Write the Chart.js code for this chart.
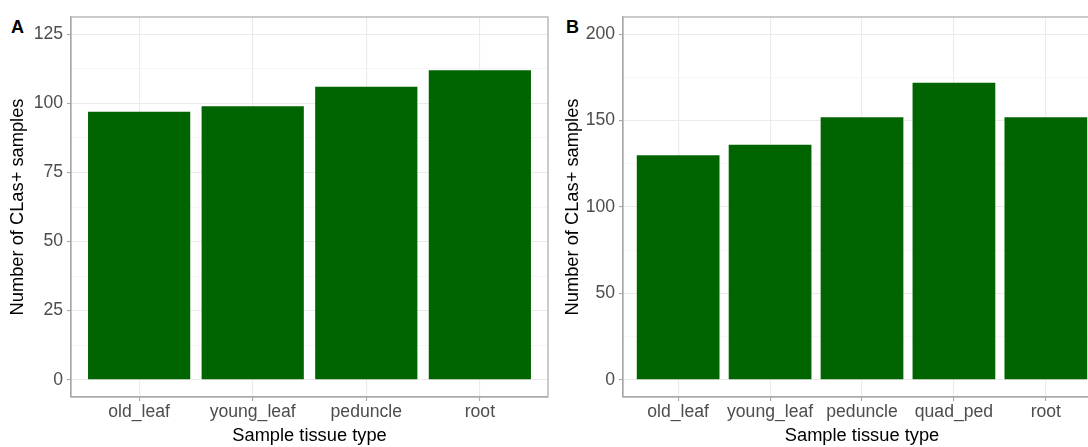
<!DOCTYPE html>
<html>
<head>
<meta charset="utf-8">
<script src="https://cdn.jsdelivr.net/npm/chart.js@4"></script>
<style>
    html, body { margin: 0; padding: 0; background: #fff; overflow: hidden; }
    body { width: 1088px; height: 447px; position: relative; }
    canvas { position: absolute; top: 0; }
    .tag { position: absolute; font: bold 18px "Liberation Sans", Arial, sans-serif; color: #000; }
</style>
</head>
<body>
<div class="tag" style="left:11px; top:17px;">A</div>
<div class="tag" style="left:566px; top:17px;">B</div>
<canvas id="chart-a" width="555" height="447" style="left:0px;"></canvas>
<canvas id="chart-b" width="560" height="447" style="left:555px;"></canvas>
<script>
// panel A
const tissueA = ['old_leaf', 'young_leaf', 'peduncle', 'root'];
const positivesA = [97, 99, 106, 112];
const majorTicksA = [0, 25, 50, 75, 100, 125];
const minorTicksA = [12.5, 37.5, 62.5, 87.5, 112.5];

// panel B
const tissueB = ['old_leaf', 'young_leaf', 'peduncle', 'quad_ped', 'root'];
const positivesB = [130, 136, 152, 172, 152];
const majorTicksB = [0, 50, 100, 150, 200];
const minorTicksB = [25, 75, 125, 175];

const fontFamily = '"Liberation Sans", Arial, sans-serif';
const borderGrey = '#a8a8a8';

// panel border all round (theme_bw style)
const panelBorder = {
    id: 'panelBorder',
    afterDraw(chart) {
        const a = chart.chartArea;
        const c = chart.ctx;
        c.save();
        c.strokeStyle = borderGrey;
        c.lineWidth = 1.2;
        c.strokeRect(a.left, a.top, a.right - a.left, a.bottom - a.top);
        c.restore();
    }
};

function makePanel(id, labels, values, majors, minors, yMin, yMax, axisWidth, padRight) {
    const ctx = document.getElementById(id).getContext('2d');
    return new Chart(ctx, {
        type: 'bar',
        data: {
            datasets: [{
                data: values.map((v, i) => ({ x: i, y: v })),
                backgroundColor: '#006400',
                borderWidth: 0,
                categoryPercentage: 1,
                barPercentage: 0.9
            }]
        },
        options: {
            responsive: false,
            animation: false,
            layout: { padding: { top: 17, right: padRight, bottom: 0, left: 0 } },
            plugins: { legend: { display: false }, tooltip: { enabled: false } },
            scales: {
                x: {
                    type: 'linear',
                    offset: false,
                    min: -0.6,
                    max: labels.length - 0.4,
                    afterBuildTicks: scale => {
                        scale.ticks = labels.map((l, i) => ({ value: i }));
                    },
                    afterFit: scale => { scale.height = 50; },
                    ticks: {
                        autoSkip: false,
                        maxRotation: 0,
                        padding: 1,
                        color: '#4d4d4d',
                        font: { family: fontFamily, size: 17.6 },
                        callback: v => labels[v]
                    },
                    grid: { offset: false, color: '#ebebeb', lineWidth: 1.1, tickColor: borderGrey, tickLength: 4 },
                    border: { color: borderGrey, width: 1.2 },
                    title: {
                        display: true,
                        text: 'Sample tissue type',
                        color: '#000',
                        font: { family: fontFamily, size: 18.3 },
                        padding: { top: 0, bottom: 0 }
                    }
                },
                y: {
                    min: yMin,
                    max: yMax,
                    afterBuildTicks: scale => {
                        scale.ticks = majors.concat(minors).sort((a, b) => a - b).map(v => ({ value: v }));
                    },
                    afterFit: scale => { scale.width = axisWidth; },
                    ticks: {
                        autoSkip: false,
                        padding: 4,
                        color: '#4d4d4d',
                        font: { family: fontFamily, size: 17.6 },
                        callback: v => majors.includes(v) ? String(v) : ''
                    },
                    grid: {
                        color: c => majors.includes(c.tick.value) ? '#ebebeb' : '#f4f4f4',
                        lineWidth: c => majors.includes(c.tick.value) ? 1.1 : 0.8,
                        tickColor: c => majors.includes(c.tick.value) ? borderGrey : 'rgba(0,0,0,0)',
                        tickLength: 4
                    },
                    border: { color: borderGrey, width: 1.2 },
                    title: {
                        display: true,
                        text: 'Number of CLas+ samples',
                        color: '#000',
                        font: { family: fontFamily, size: 18.3 },
                        padding: { top: 7, bottom: 0 }
                    }
                }
            }
        },
        plugins: [panelBorder]
    });
}

makePanel('chart-a', tissueA, positivesA, majorTicksA, minorTicksA, -6.25, 131.25, 71, 7);
makePanel('chart-b', tissueB, positivesB, majorTicksB, minorTicksB, -10, 210, 68, 14);
</script>
</body>
</html>
